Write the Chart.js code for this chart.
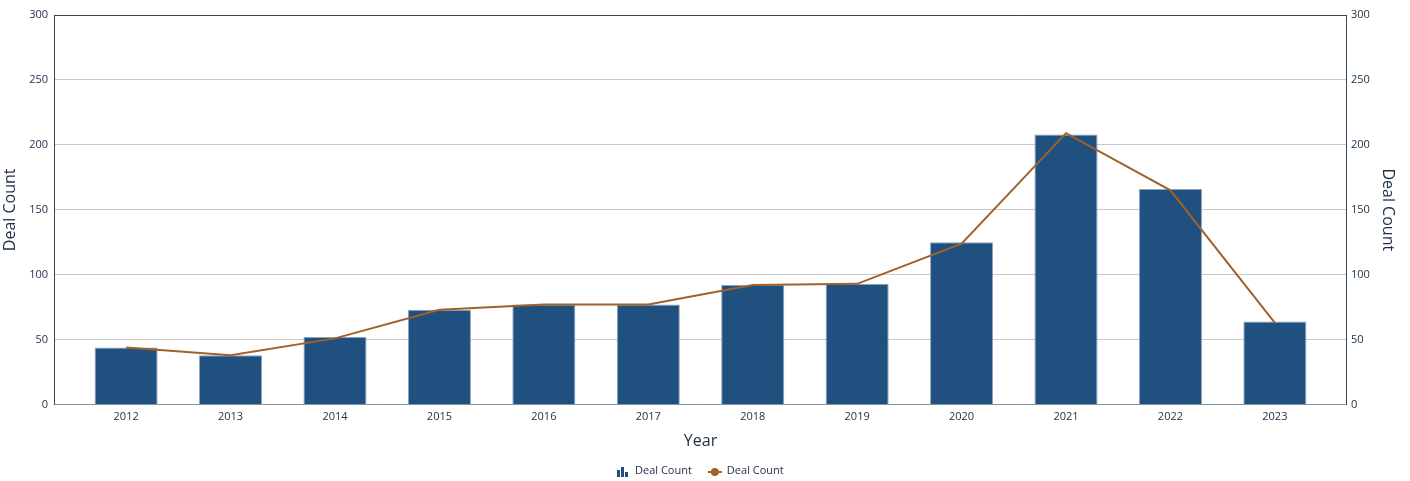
<!DOCTYPE html>
<html>
<head>
<meta charset="utf-8">
<script src="https://cdn.jsdelivr.net/npm/chart.js@4.4.1/dist/chart.umd.min.js"></script>
<style>
  html, body { margin: 0; padding: 0; background: #ffffff; }
  #wrap { width: 1410px; height: 481px; }
</style>
</head>
<body>
<div id="wrap"><canvas id="dealChart"></canvas></div>
<script>
const years = ["2012", "2013", "2014", "2015", "2016", "2017", "2018", "2019", "2020", "2021", "2022", "2023"];
const barCounts = [44, 38, 52, 73, 77, 77, 92, 93, 125, 208, 166, 64];
const lineCounts = [44, 38, 51, 73, 77, 77, 92, 93, 124, 209, 165, 63];
const yTicks = [0, 50, 100, 150, 200, 250, 300];
const legendNames = ["Deal Count", "Deal Count"];

const navy = "#1f5080";
const rust = "#a0612a";
const ink = "#1e2d44";
const fontFamily = "\"Open Sans\", \"Noto Sans\", sans-serif";

Chart.defaults.font.family = fontFamily;
Chart.defaults.color = ink;

// x is linear over year index so the outer margin can be wider than half a slot
const xPad = 0.69;
const barPoints = barCounts.map((v, i) => ({ x: i, y: v }));
const linePoints = lineCounts.map((v, i) => ({ x: i, y: v }));

// bottom legend: bar icon + line-with-dot icon, drawn by hand
const bottomLegend = {
  id: "bottomLegend",
  afterDraw(chart) {
    const g = chart.ctx;
    const y = 471;
    g.save();
    g.font = "11px " + fontFamily;
    g.textBaseline = "middle";
    g.textAlign = "left";
    const w0 = g.measureText(legendNames[0]).width;
    const w1 = g.measureText(legendNames[1]).width;
    const total = 12 + 6 + w0 + 16 + 14 + 6 + w1;
    let x = Math.round(chart.width / 2 - total / 2) - 4;

    g.fillStyle = navy;
    g.fillRect(x, y - 1, 3, 7);
    g.fillRect(x + 4, y - 4, 3, 10);
    g.fillRect(x + 8, y + 1, 3, 5);
    x += 18;
    g.fillStyle = ink;
    g.fillText(legendNames[0], x, y);
    x += w0 + 16;

    g.strokeStyle = rust;
    g.lineWidth = 2;
    g.beginPath();
    g.moveTo(x, y + 1);
    g.lineTo(x + 14, y + 1);
    g.stroke();
    g.fillStyle = rust;
    g.beginPath();
    g.arc(x + 7, y + 1, 4, 0, Math.PI * 2);
    g.fill();
    x += 19;
    g.fillStyle = ink;
    g.fillText(legendNames[1], x, y);
    g.restore();
  }
};

new Chart(document.getElementById("dealChart"), {
  data: {
    datasets: [
      {
        type: "line",
        label: legendNames[1],
        data: linePoints,
        yAxisID: "y1",
        borderColor: rust,
        backgroundColor: rust,
        borderWidth: 2,
        pointRadius: 0,
        tension: 0,
        order: 0
      },
      {
        type: "bar",
        label: legendNames[0],
        data: barPoints,
        yAxisID: "y",
        backgroundColor: navy,
        borderColor: "#8ea3bb",
        borderWidth: 1,
        barPercentage: 0.604,
        categoryPercentage: 1,
        order: 1
      }
    ]
  },
  plugins: [bottomLegend],
  options: {
    responsive: true,
    maintainAspectRatio: false,
    animation: false,
    layout: { padding: { top: 15, left: 1, right: 7, bottom: 0 } },
    plugins: {
      tooltip: { enabled: false },
      legend: { display: false }
    },
    scales: {
      x: {
        type: "linear",
        offset: false,
        min: -xPad,
        max: years.length - 1 + xPad,
        afterBuildTicks: s => { s.ticks = years.map((_, i) => ({ value: i })); },
        grid: { display: false, drawTicks: false },
        border: { color: "#7e959e", width: 1 },
        ticks: {
          color: ink,
          font: { size: 11 },
          padding: 6,
          autoSkip: false,
          maxRotation: 0,
          callback: v => years[v]
        },
        title: { display: true, text: "Year", color: ink, font: { size: 16 }, padding: { top: 2, bottom: 30 } }
      },
      y: {
        position: "left",
        min: 0,
        max: 300,
        afterBuildTicks: s => { s.ticks = yTicks.map(v => ({ value: v })); },
        grid: {
          color: ctx => ctx.tick && ctx.tick.value === 300 ? "#2e4a58" : "#c9c9c9",
          drawTicks: false
        },
        border: { color: "#2e4a58", width: 1 },
        ticks: { color: ink, font: { size: 11 }, padding: 6 },
        title: { display: true, text: "Deal Count", color: ink, font: { size: 16 }, padding: { top: 0, bottom: 3 } }
      },
      y1: {
        position: "right",
        min: 0,
        max: 300,
        afterBuildTicks: s => { s.ticks = yTicks.map(v => ({ value: v })); },
        grid: { display: false, drawTicks: false },
        border: { color: "#2e4a58", width: 1 },
        ticks: { color: ink, font: { size: 11 }, padding: 4 },
        title: { display: true, text: "Deal Count", color: ink, font: { size: 16 }, padding: { top: 6, bottom: 4 } }
      }
    }
  }
});
</script>
</body>
</html>
